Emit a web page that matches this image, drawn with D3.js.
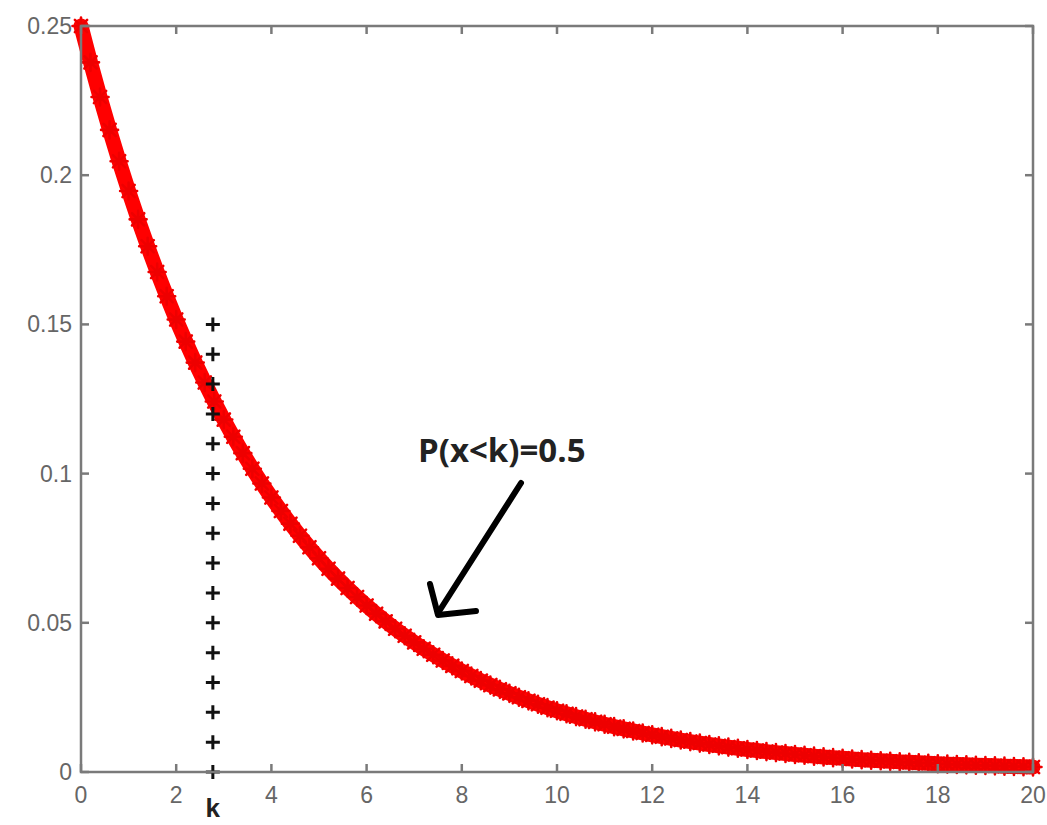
<!DOCTYPE html>
<html>
<head>
<meta charset="utf-8">
<script src="https://cdn.jsdelivr.net/npm/d3@7"></script>
<style>
  html, body { margin: 0; padding: 0; background: #fff; }
  svg { display: block; }
</style>
</head>
<body>
<svg id="chart" width="1047" height="825"></svg>
<script>
// Exponential density, sampled every 0.2 on [0, 20]
const xStep = 0.2;
const densityValues = [
  0.25000, 0.23781, 0.22621, 0.21518, 0.20468, 0.19470, 0.18520, 0.17617, 0.16758, 0.15941,
  0.15163, 0.14424, 0.13720, 0.13051, 0.12415, 0.11809, 0.11233, 0.10685, 0.10164, 0.09669,
  0.09197, 0.08748, 0.08322, 0.07916, 0.07530, 0.07163, 0.06813, 0.06481, 0.06165, 0.05864,
  0.05578, 0.05306, 0.05047, 0.04801, 0.04567, 0.04344, 0.04132, 0.03931, 0.03739, 0.03557,
  0.03383, 0.03218, 0.03061, 0.02912, 0.02770, 0.02635, 0.02506, 0.02384, 0.02268, 0.02157,
  0.02052, 0.01952, 0.01857, 0.01766, 0.01680, 0.01598, 0.01520, 0.01446, 0.01376, 0.01308,
  0.01245, 0.01184, 0.01126, 0.01071, 0.01019, 0.00969, 0.00922, 0.00877, 0.00834, 0.00794,
  0.00755, 0.00718, 0.00683, 0.00650, 0.00618, 0.00588, 0.00559, 0.00532, 0.00506, 0.00481,
  0.00458, 0.00436, 0.00414, 0.00394, 0.00375, 0.00357, 0.00339, 0.00323, 0.00307, 0.00292,
  0.00278, 0.00264, 0.00251, 0.00239, 0.00227, 0.00216, 0.00206, 0.00196, 0.00186, 0.00177,
  0.00168
];

// Median marker line x = k, drawn as '+' markers
const medianK = 2.77;
const medianLevels = [0, 0.01, 0.02, 0.03, 0.04, 0.05, 0.06, 0.07, 0.08, 0.09, 0.10, 0.11, 0.12, 0.13, 0.14, 0.15];

const xTicks = [0, 2, 4, 6, 8, 10, 12, 14, 16, 18, 20];
const yTicks = [0, 0.05, 0.1, 0.15, 0.2, 0.25];
const yTickLabels = ["0", "0.05", "0.1", "0.15", "0.2", "0.25"];

const annotationText = "P(x<k)=0.5";
const kLabel = "k";

const svg = d3.select("#chart");
const plot = { left: 81, right: 1033, top: 26, bottom: 772 };

const x = d3.scaleLinear().domain([0, 20]).range([plot.left, plot.right]);
const y = d3.scaleLinear().domain([0, 0.25]).range([plot.bottom, plot.top]);

const axisColor = "#7a7a7a";
const labelColor = "#666666";

// Curve points
const curve = densityValues.map((v, i) => ({ x: i * xStep, y: v }));

// Thick red band under the star markers
svg.append("path")
  .datum(curve)
  .attr("d", d3.line().x(d => x(d.x)).y(d => y(d.y)))
  .attr("fill", "none")
  .attr("stroke", "#ff0000")
  .attr("stroke-width", 15)
  .attr("stroke-linejoin", "round")
  .attr("stroke-linecap", "round");

// Star markers ('*' = plus + cross)
const starSize = 8.5;
const stars = svg.append("g").attr("stroke", "#ee0000").attr("stroke-width", 2.6).attr("stroke-linecap", "round");
curve.forEach(d => {
  const cx = x(d.x), cy = y(d.y), r = starSize, q = r * 0.72;
  stars.append("path")
    .attr("d", `M${cx - r},${cy}L${cx + r},${cy}M${cx},${cy - r}L${cx},${cy + r}` +
               `M${cx - q},${cy - q}L${cx + q},${cy + q}M${cx - q},${cy + q}L${cx + q},${cy - q}`);
});

// Median '+' markers
const plusG = svg.append("g").attr("stroke", "#111").attr("stroke-width", 3);
medianLevels.forEach(v => {
  const cx = x(medianK), cy = y(v), r = 7;
  plusG.append("path")
    .attr("d", `M${cx - r},${cy}L${cx + r},${cy}M${cx},${cy - r}L${cx},${cy + r}`);
});

// Axes box with inward ticks on all four sides
const axisG = svg.append("g").attr("stroke", axisColor).attr("stroke-width", 2.5).attr("fill", "none");
axisG.append("rect")
  .attr("x", plot.left).attr("y", plot.top)
  .attr("width", plot.right - plot.left).attr("height", plot.bottom - plot.top);

const tickLen = 8;
xTicks.forEach(t => {
  axisG.append("line").attr("x1", x(t)).attr("x2", x(t)).attr("y1", plot.bottom).attr("y2", plot.bottom - tickLen);
  axisG.append("line").attr("x1", x(t)).attr("x2", x(t)).attr("y1", plot.top).attr("y2", plot.top + tickLen);
});
yTicks.forEach(t => {
  axisG.append("line").attr("x1", plot.left).attr("x2", plot.left + tickLen).attr("y1", y(t)).attr("y2", y(t));
  axisG.append("line").attr("x1", plot.right).attr("x2", plot.right - tickLen).attr("y1", y(t)).attr("y2", y(t));
});

// Tick labels
const fontFamily = "'Liberation Sans', Arial, sans-serif";
svg.append("g").selectAll("text").data(xTicks).join("text")
  .attr("x", d => x(d)).attr("y", 803)
  .attr("text-anchor", "middle")
  .attr("font-family", fontFamily).attr("font-size", 23)
  .attr("fill", labelColor)
  .text(d => d);

svg.append("g").selectAll("text").data(yTicks).join("text")
  .attr("x", 72).attr("y", d => y(d) + 8)
  .attr("text-anchor", "end")
  .attr("font-family", fontFamily).attr("font-size", 23)
  .attr("fill", labelColor)
  .text((d, i) => yTickLabels[i]);

// k label under the median line
svg.append("text")
  .attr("x", x(medianK)).attr("y", 817)
  .attr("text-anchor", "middle")
  .attr("font-family", fontFamily).attr("font-size", 26).attr("font-weight", "bold")
  .attr("fill", "#222")
  .text(kLabel);

// Annotation and arrow
svg.append("text")
  .attr("x", 418).attr("y", 462)
  .attr("font-family", "'Open Sans', 'Liberation Sans', sans-serif").attr("font-size", 33).attr("font-weight", "bold")
  .attr("fill", "#222")
  .text(annotationText);

const arrow = svg.append("g").attr("stroke", "#000").attr("stroke-width", 6).attr("fill", "none")
  .attr("stroke-linecap", "round").attr("stroke-linejoin", "round");
arrow.append("line").attr("x1", 521).attr("y1", 483).attr("x2", 438).attr("y2", 613);
arrow.append("path").attr("d", "M430,584L438,615L476,611");
</script>
</body>
</html>
